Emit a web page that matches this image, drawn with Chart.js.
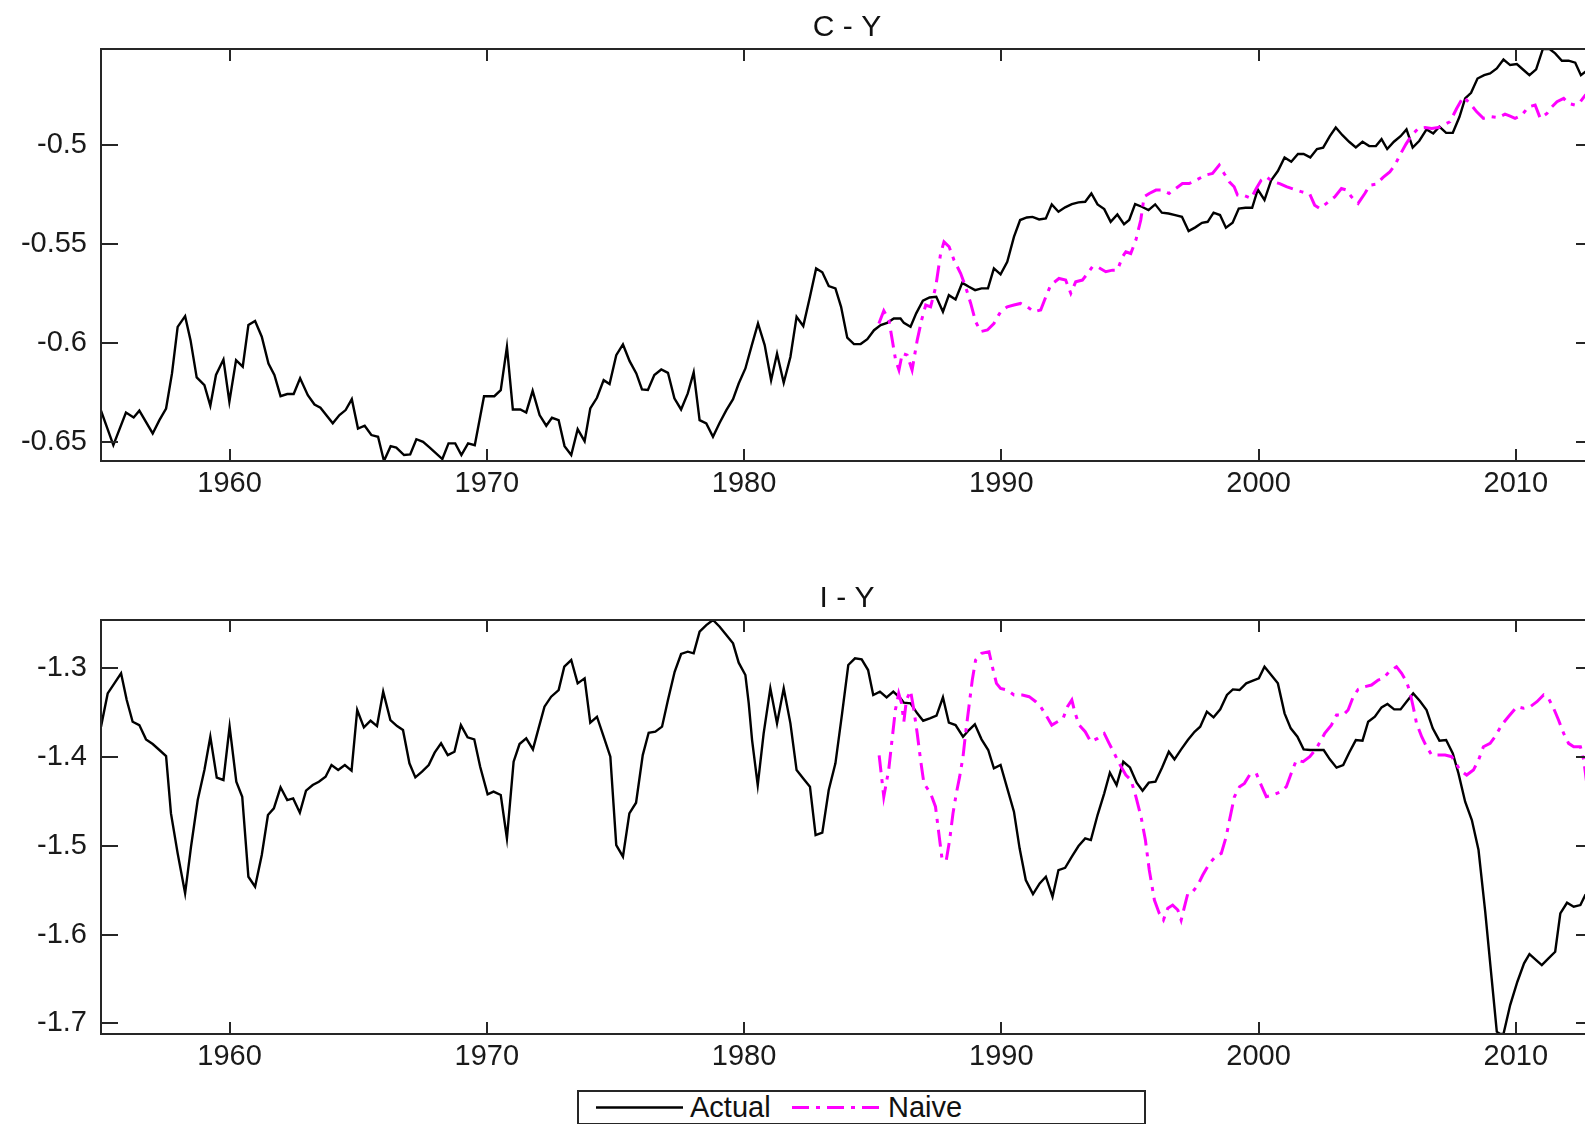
<!DOCTYPE html>
<html>
<head>
<meta charset="utf-8">
<title>C - Y / I - Y: Actual vs Naive</title>
<script src="https://cdn.jsdelivr.net/npm/chart.js@4.4.1/dist/chart.umd.min.js"></script>
<style>
    html, body {
        margin: 0;
        padding: 0;
        width: 1585px;
        height: 1124px;
        overflow: hidden;
        background: #fff;
        font-family: 'Liberation Sans', Arial, sans-serif;
    }
    .panel { position: absolute; left: 0; }
    #cyChart { top: 0; }
    #iyChart { top: 571px; }
    #legend {
        position: absolute;
        left: 577px;
        top: 1090px;
        width: 565px;
        height: 31px;
        border: 2px solid #262626;
        background: #fff;
        color: #111;
        font-size: 29px;
    }
    #legend span { position: absolute; top: 0; line-height: 31px; }
    #legend svg { position: absolute; top: 0; }
</style>
</head>
<body>
<canvas id="cyChart" class="panel" width="1600" height="500"></canvas>
<canvas id="iyChart" class="panel" width="1600" height="502"></canvas>
<div id="legend"></div>

<script>
// ---- axis ticks ----
const yearTicks = [1960, 1970, 1980, 1990, 2000, 2010];
const yearTickLabels = ['1960', '1970', '1980', '1990', '2000', '2010'];
const cyTicks = [-0.65, -0.6, -0.55, -0.5];
const cyTickLabels = ['-0.65', '-0.6', '-0.55', '-0.5'];
const iyTicks = [-1.7, -1.6, -1.5, -1.4, -1.3];
const iyTickLabels = ['-1.7', '-1.6', '-1.5', '-1.4', '-1.3'];
const seriesNames = ['Actual', 'Naive'];

// ---- C - Y, actual ----
const cyActualYears = [
    1955.00, 1955.48, 1955.97, 1956.27, 1956.49, 1957.01, 1957.27, 1957.53, 1957.76, 1957.98,
    1958.27, 1958.48, 1958.72, 1959.02, 1959.25, 1959.47, 1959.76, 1959.99, 1960.25, 1960.51,
    1960.73, 1960.99, 1961.25, 1961.51, 1961.74, 1961.98, 1962.24, 1962.49, 1962.74, 1963.04,
    1963.30, 1963.53, 1964.01, 1964.27, 1964.51, 1964.75, 1964.99, 1965.25, 1965.51, 1965.77,
    1966.00, 1966.26, 1966.48, 1966.78, 1967.02, 1967.26, 1967.52, 1967.78, 1968.27, 1968.51,
    1968.77, 1969.01, 1969.27, 1969.53, 1969.89, 1970.00, 1970.29, 1970.54, 1970.78, 1971.01,
    1971.30, 1971.53, 1971.78, 1972.05, 1972.31, 1972.53, 1972.79, 1973.02, 1973.28, 1973.53,
    1973.80, 1974.02, 1974.28, 1974.54, 1974.77, 1975.03, 1975.29, 1975.55, 1975.81, 1976.03,
    1976.26, 1976.51, 1976.78, 1977.04, 1977.29, 1977.55, 1977.81, 1978.04, 1978.27, 1978.53,
    1978.79, 1979.05, 1979.31, 1979.57, 1979.79, 1980.05, 1980.29, 1980.54, 1980.80, 1981.05,
    1981.28, 1981.54, 1981.80, 1982.04, 1982.30, 1982.56, 1982.80, 1983.04, 1983.29, 1983.55,
    1983.77, 1984.01, 1984.27, 1984.53, 1984.79, 1985.05, 1985.31, 1985.56, 1985.82, 1986.08,
    1986.21, 1986.47, 1986.69, 1986.95, 1987.21, 1987.47, 1987.73, 1987.96, 1988.22, 1988.48,
    1988.74, 1988.98, 1989.23, 1989.48, 1989.71, 1989.97, 1990.23, 1990.49, 1990.73, 1990.99,
    1991.21, 1991.47, 1991.73, 1991.96, 1992.22, 1992.48, 1992.74, 1993.00, 1993.26, 1993.50,
    1993.74, 1994.00, 1994.25, 1994.51, 1994.77, 1994.97, 1995.20, 1995.46, 1995.72, 1995.98,
    1996.24, 1996.50, 1996.76, 1997.02, 1997.28, 1997.54, 1997.80, 1998.02, 1998.25, 1998.50,
    1998.73, 1998.99, 1999.23, 1999.49, 1999.75, 1999.97, 2000.23, 2000.49, 2000.75, 2001.01,
    2001.27, 2001.53, 2001.75, 2002.01, 2002.27, 2002.51, 2002.77, 2003.00, 2003.26, 2003.52,
    2003.78, 2004.04, 2004.30, 2004.56, 2004.78, 2005.00, 2005.26, 2005.52, 2005.75, 2005.99,
    2006.25, 2006.53, 2006.79, 2007.03, 2007.29, 2007.55, 2007.81, 2008.03, 2008.26, 2008.51,
    2008.77, 2009.00, 2009.26, 2009.52, 2009.78, 2010.04, 2010.30, 2010.53, 2010.79, 2011.05,
    2011.31, 2011.53, 2011.79, 2012.05, 2012.31, 2012.53, 2012.70, 2013.00
];
const cyActualValues = [
    -0.6340, -0.6514, -0.6349, -0.6374, -0.6340, -0.6455, -0.6388, -0.6329, -0.6152, -0.5917,
    -0.5863, -0.5984, -0.6172, -0.6211, -0.6315, -0.6160, -0.6082, -0.6295, -0.6085, -0.6118,
    -0.5908, -0.5888, -0.5967, -0.6102, -0.6160, -0.6267, -0.6256, -0.6256, -0.6177, -0.6262,
    -0.6309, -0.6325, -0.6404, -0.6362, -0.6337, -0.6282, -0.6430, -0.6416, -0.6463, -0.6472,
    -0.6594, -0.6519, -0.6526, -0.6564, -0.6561, -0.6484, -0.6497, -0.6526, -0.6584, -0.6505,
    -0.6505, -0.6564, -0.6505, -0.6514, -0.6267, -0.6267, -0.6267, -0.6236, -0.6018, -0.6334,
    -0.6334, -0.6349, -0.6240, -0.6362, -0.6416, -0.6376, -0.6388, -0.6519, -0.6564, -0.6433,
    -0.6494, -0.6329, -0.6275, -0.6186, -0.6206, -0.6060, -0.6006, -0.6090, -0.6152, -0.6233,
    -0.6236, -0.6160, -0.6132, -0.6149, -0.6278, -0.6334, -0.6253, -0.6147, -0.6388, -0.6404,
    -0.6472, -0.6401, -0.6337, -0.6282, -0.6203, -0.6127, -0.6014, -0.5900, -0.6009, -0.6186,
    -0.6052, -0.6199, -0.6069, -0.5866, -0.5913, -0.5765, -0.5622, -0.5642, -0.5711, -0.5723,
    -0.5816, -0.5972, -0.6004, -0.6004, -0.5979, -0.5934, -0.5908, -0.5897, -0.5875, -0.5875,
    -0.5897, -0.5917, -0.5849, -0.5785, -0.5769, -0.5765, -0.5841, -0.5757, -0.5779, -0.5695,
    -0.5715, -0.5732, -0.5723, -0.5723, -0.5622, -0.5652, -0.5589, -0.5463, -0.5378, -0.5365,
    -0.5362, -0.5375, -0.5370, -0.5299, -0.5336, -0.5314, -0.5298, -0.5289, -0.5286, -0.5244,
    -0.5299, -0.5323, -0.5387, -0.5350, -0.5399, -0.5378, -0.5298, -0.5311, -0.5328, -0.5299,
    -0.5341, -0.5345, -0.5353, -0.5362, -0.5434, -0.5415, -0.5392, -0.5387, -0.5341, -0.5353,
    -0.5417, -0.5392, -0.5320, -0.5316, -0.5316, -0.5224, -0.5277, -0.5177, -0.5131, -0.5062,
    -0.5084, -0.5045, -0.5045, -0.5062, -0.5020, -0.5013, -0.4955, -0.4911, -0.4950, -0.4983,
    -0.5012, -0.4983, -0.5005, -0.5005, -0.4970, -0.5020, -0.4983, -0.4955, -0.4921, -0.5012,
    -0.4978, -0.4921, -0.4941, -0.4907, -0.4938, -0.4938, -0.4857, -0.4764, -0.4736, -0.4664,
    -0.4647, -0.4638, -0.4613, -0.4568, -0.4596, -0.4591, -0.4621, -0.4647, -0.4618, -0.4515,
    -0.4515, -0.4537, -0.4574, -0.4574, -0.4584, -0.4647, -0.4630, -0.4615
];

// ---- C - Y, naive ----
const cyNaiveYears = [
    1985.24, 1985.43, 1985.63, 1985.76, 1985.89, 1986.02, 1986.15, 1986.34, 1986.53, 1986.73,
    1986.90, 1987.06, 1987.25, 1987.45, 1987.64, 1987.77, 1987.97, 1988.16, 1988.42, 1988.61,
    1988.81, 1989.00, 1989.20, 1989.46, 1989.71, 1989.97, 1990.23, 1990.49, 1990.75, 1991.01,
    1991.27, 1991.53, 1991.73, 1991.92, 1992.24, 1992.50, 1992.70, 1992.89, 1993.15, 1993.35,
    1993.54, 1993.73, 1994.06, 1994.32, 1994.51, 1994.71, 1994.84, 1995.03, 1995.23, 1995.42,
    1995.55, 1995.75, 1996.01, 1996.26, 1996.52, 1996.78, 1997.04, 1997.30, 1997.56, 1997.95,
    1998.21, 1998.47, 1998.66, 1998.86, 1999.05, 1999.18, 1999.39, 1999.71, 1999.91, 2000.10,
    2000.30, 2000.56, 2000.82, 2001.08, 2001.40, 2001.66, 2001.99, 2002.18, 2002.38, 2002.64,
    2002.96, 2003.22, 2003.42, 2003.61, 2003.87, 2004.13, 2004.32, 2004.58, 2004.84, 2005.10,
    2005.30, 2005.49, 2005.73, 2005.95, 2006.21, 2006.47, 2006.73, 2006.99, 2007.18, 2007.44,
    2007.70, 2007.96, 2008.22, 2008.48, 2008.74, 2009.06, 2009.32, 2009.58, 2009.78, 2009.97,
    2010.23, 2010.49, 2010.75, 2010.95, 2011.21, 2011.40, 2011.60, 2011.86, 2012.05, 2012.31,
    2012.51, 2012.70, 2013.00
];
const cyNaiveValues = [
    -0.5900, -0.5836, -0.5883, -0.5984, -0.6085, -0.6135, -0.6051, -0.6060, -0.6135, -0.5984,
    -0.5883, -0.5807, -0.5816, -0.5715, -0.5547, -0.5488, -0.5513, -0.5580, -0.5648, -0.5715,
    -0.5799, -0.5891, -0.5941, -0.5933, -0.5900, -0.5841, -0.5816, -0.5807, -0.5799, -0.5816,
    -0.5841, -0.5832, -0.5765, -0.5706, -0.5673, -0.5681, -0.5748, -0.5690, -0.5681, -0.5648,
    -0.5614, -0.5614, -0.5639, -0.5631, -0.5631, -0.5564, -0.5538, -0.5547, -0.5479, -0.5378,
    -0.5261, -0.5244, -0.5227, -0.5227, -0.5244, -0.5219, -0.5194, -0.5194, -0.5177, -0.5151,
    -0.5143, -0.5101, -0.5143, -0.5185, -0.5210, -0.5252, -0.5252, -0.5269, -0.5219, -0.5177,
    -0.5160, -0.5185, -0.5194, -0.5210, -0.5224, -0.5235, -0.5247, -0.5303, -0.5320, -0.5294,
    -0.5261, -0.5219, -0.5227, -0.5261, -0.5294, -0.5244, -0.5202, -0.5197, -0.5163, -0.5135,
    -0.5101, -0.5051, -0.4995, -0.4950, -0.4916, -0.4911, -0.4916, -0.4911, -0.4899, -0.4882,
    -0.4815, -0.4756, -0.4790, -0.4832, -0.4865, -0.4857, -0.4861, -0.4844, -0.4854, -0.4865,
    -0.4849, -0.4807, -0.4798, -0.4865, -0.4840, -0.4807, -0.4781, -0.4764, -0.4790, -0.4798,
    -0.4781, -0.4748, -0.4750
];

// ---- I - Y, actual ----
const iyActualYears = [
    1955.00, 1955.26, 1955.52, 1955.78, 1956.00, 1956.23, 1956.49, 1956.75, 1957.01, 1957.27,
    1957.53, 1957.72, 1957.98, 1958.27, 1958.50, 1958.76, 1959.02, 1959.25, 1959.50, 1959.76,
    1960.00, 1960.26, 1960.49, 1960.73, 1960.99, 1961.25, 1961.49, 1961.72, 1961.98, 1962.24,
    1962.47, 1962.73, 1962.97, 1963.23, 1963.47, 1963.73, 1963.96, 1964.22, 1964.48, 1964.74,
    1964.96, 1965.22, 1965.48, 1965.73, 1965.97, 1966.25, 1966.51, 1966.74, 1966.99, 1967.22,
    1967.48, 1967.74, 1967.97, 1968.22, 1968.48, 1968.74, 1968.99, 1969.25, 1969.51, 1969.74,
    1970.03, 1970.26, 1970.54, 1970.78, 1971.04, 1971.27, 1971.53, 1971.79, 1972.01, 1972.24,
    1972.50, 1972.79, 1973.01, 1973.28, 1973.53, 1973.80, 1974.02, 1974.28, 1974.54, 1974.80,
    1975.03, 1975.29, 1975.54, 1975.80, 1976.06, 1976.29, 1976.55, 1976.81, 1977.04, 1977.30,
    1977.55, 1977.81, 1978.04, 1978.27, 1978.53, 1978.79, 1979.05, 1979.31, 1979.57, 1979.79,
    1980.05, 1980.18, 1980.31, 1980.53, 1980.76, 1981.02, 1981.28, 1981.54, 1981.80, 1982.04,
    1982.30, 1982.56, 1982.78, 1983.04, 1983.29, 1983.55, 1983.81, 1984.05, 1984.31, 1984.57,
    1984.82, 1985.02, 1985.28, 1985.54, 1985.80, 1986.08, 1986.21, 1986.47, 1986.73, 1986.96,
    1987.22, 1987.48, 1987.73, 1987.96, 1988.22, 1988.51, 1988.74, 1988.97, 1989.23, 1989.49,
    1989.71, 1989.97, 1990.23, 1990.49, 1990.71, 1990.95, 1991.23, 1991.49, 1991.73, 1991.99,
    1992.22, 1992.48, 1992.74, 1993.00, 1993.26, 1993.48, 1993.74, 1994.00, 1994.22, 1994.48,
    1994.74, 1995.00, 1995.26, 1995.49, 1995.73, 1995.99, 1996.25, 1996.51, 1996.73, 1996.99,
    1997.25, 1997.51, 1997.73, 1997.99, 1998.25, 1998.51, 1998.77, 1999.00, 1999.26, 1999.52,
    1999.78, 2000.01, 2000.23, 2000.49, 2000.75, 2001.01, 2001.25, 2001.51, 2001.75, 2002.01,
    2002.27, 2002.53, 2002.77, 2003.03, 2003.29, 2003.52, 2003.78, 2004.04, 2004.26, 2004.52,
    2004.78, 2005.01, 2005.27, 2005.52, 2005.75, 2006.01, 2006.27, 2006.53, 2006.77, 2007.03,
    2007.29, 2007.55, 2007.77, 2008.03, 2008.29, 2008.55, 2008.81, 2009.06, 2009.26, 2009.39,
    2009.52, 2009.78, 2010.06, 2010.32, 2010.53, 2010.79, 2011.01, 2011.27, 2011.53, 2011.73,
    2011.99, 2012.25, 2012.51, 2012.70, 2013.00
];
const iyActualValues = [
    -1.3657, -1.3282, -1.3169, -1.3056, -1.3357, -1.3601, -1.3639, -1.3800, -1.3853, -1.3920,
    -1.3988, -1.4634, -1.5085, -1.5535, -1.5009, -1.4484, -1.4146, -1.3770, -1.4232, -1.4258,
    -1.3657, -1.4277, -1.4446, -1.5348, -1.5460, -1.5103, -1.4653, -1.4578, -1.4340, -1.4484,
    -1.4465, -1.4626, -1.4378, -1.4315, -1.4277, -1.4221, -1.4089, -1.4146, -1.4089, -1.4153,
    -1.3469, -1.3665, -1.3590, -1.3650, -1.3263, -1.3582, -1.3650, -1.3695, -1.4070, -1.4228,
    -1.4164, -1.4089, -1.3950, -1.3845, -1.3977, -1.3939, -1.3639, -1.3777, -1.3800, -1.4108,
    -1.4420, -1.4389, -1.4427, -1.4916, -1.4052, -1.3853, -1.3789, -1.3913, -1.3676, -1.3432,
    -1.3319, -1.3244, -1.2981, -1.2906, -1.3169, -1.3113, -1.3612, -1.3545, -1.3770, -1.3995,
    -1.4991, -1.5122, -1.4634, -1.4514, -1.3977, -1.3725, -1.3714, -1.3657, -1.3357, -1.3038,
    -1.2838, -1.2812, -1.2831, -1.2587, -1.2512, -1.2455, -1.2531, -1.2624, -1.2718, -1.2936,
    -1.3075, -1.3394, -1.3808, -1.4315, -1.3732, -1.3225, -1.3620, -1.3225, -1.3620, -1.4146,
    -1.4240, -1.4333, -1.4878, -1.4852, -1.4371, -1.4070, -1.3507, -1.2962, -1.2887, -1.2898,
    -1.3019, -1.3300, -1.3263, -1.3327, -1.3263, -1.3338, -1.3387, -1.3394, -1.3507, -1.3590,
    -1.3563, -1.3533, -1.3327, -1.3612, -1.3639, -1.3770, -1.3695, -1.3631, -1.3800, -1.3920,
    -1.4127, -1.4089, -1.4352, -1.4615, -1.5028, -1.5385, -1.5543, -1.5423, -1.5348, -1.5573,
    -1.5273, -1.5247, -1.5122, -1.5002, -1.4916, -1.4935, -1.4653, -1.4408, -1.4176, -1.4315,
    -1.4052, -1.4116, -1.4288, -1.4378, -1.4288, -1.4277, -1.4116, -1.3939, -1.4025, -1.3913,
    -1.3808, -1.3714, -1.3657, -1.3488, -1.3552, -1.3462, -1.3300, -1.3237, -1.3244, -1.3169,
    -1.3139, -1.3113, -1.2981, -1.3075, -1.3169, -1.3507, -1.3676, -1.3770, -1.3913, -1.3920,
    -1.3920, -1.3920, -1.4025, -1.4119, -1.4089, -1.3950, -1.3808, -1.3815, -1.3601, -1.3545,
    -1.3439, -1.3402, -1.3462, -1.3462, -1.3376, -1.3282, -1.3368, -1.3470, -1.3676, -1.3815,
    -1.3808, -1.3958, -1.4183, -1.4502, -1.4709, -1.5047, -1.5742, -1.6493, -1.7094, -1.7120,
    -1.7120, -1.6794, -1.6531, -1.6324, -1.6219, -1.6287, -1.6343, -1.6268, -1.6193, -1.5761,
    -1.5641, -1.5686, -1.5667, -1.5554, -1.5530
];

// ---- I - Y, naive ----
const iyNaiveYears = [
    1985.25, 1985.43, 1985.62, 1985.75, 1985.88, 1986.01, 1986.12, 1986.21, 1986.31, 1986.47,
    1986.60, 1986.73, 1986.86, 1986.99, 1987.25, 1987.44, 1987.57, 1987.70, 1987.86, 1987.99,
    1988.12, 1988.25, 1988.38, 1988.51, 1988.61, 1988.74, 1988.87, 1989.00, 1989.23, 1989.52,
    1989.65, 1989.81, 1989.97, 1990.23, 1990.49, 1990.82, 1991.08, 1991.34, 1991.53, 1991.73,
    1991.96, 1992.18, 1992.40, 1992.57, 1992.74, 1992.87, 1993.03, 1993.26, 1993.48, 1993.74,
    1994.00, 1994.19, 1994.39, 1994.58, 1994.84, 1995.04, 1995.23, 1995.43, 1995.60, 1995.75,
    1995.95, 1996.14, 1996.30, 1996.47, 1996.66, 1996.86, 1996.99, 1997.12, 1997.25, 1997.44,
    1997.64, 1997.83, 1998.09, 1998.32, 1998.55, 1998.74, 1998.87, 1999.06, 1999.26, 1999.45,
    1999.65, 1999.91, 2000.10, 2000.30, 2000.56, 2000.88, 2001.08, 2001.27, 2001.47, 2001.73,
    2001.99, 2002.25, 2002.57, 2002.83, 2003.03, 2003.29, 2003.48, 2003.68, 2003.87, 2004.13,
    2004.39, 2004.65, 2004.84, 2005.08, 2005.36, 2005.56, 2005.75, 2005.88, 2006.01, 2006.14,
    2006.34, 2006.53, 2006.73, 2006.99, 2007.25, 2007.51, 2007.83, 2008.09, 2008.35, 2008.55,
    2008.74, 2009.00, 2009.19, 2009.45, 2009.71, 2010.04, 2010.30, 2010.56, 2010.82, 2011.08,
    2011.27, 2011.47, 2011.66, 2011.86, 2012.05, 2012.25, 2012.51, 2012.64, 2012.75
];
const iyNaiveValues = [
    -1.3980, -1.4446, -1.4146, -1.3808, -1.3470, -1.3282, -1.3394, -1.3601, -1.3357, -1.3252,
    -1.3470, -1.3733, -1.4033, -1.4296, -1.4408, -1.4559, -1.4859, -1.5160, -1.5160, -1.4934,
    -1.4634, -1.4408, -1.4220, -1.3995, -1.3733, -1.3432, -1.3131, -1.2906, -1.2831, -1.2812,
    -1.2981, -1.3169, -1.3225, -1.3244, -1.3300, -1.3300, -1.3319, -1.3376, -1.3432, -1.3526,
    -1.3639, -1.3601, -1.3563, -1.3432, -1.3357, -1.3507, -1.3639, -1.3714, -1.3826, -1.3789,
    -1.3733, -1.3845, -1.3958, -1.4070, -1.4202, -1.4258, -1.4446, -1.4671, -1.4934, -1.5272,
    -1.5610, -1.5761, -1.5836, -1.5704, -1.5667, -1.5723, -1.5836, -1.5686, -1.5535, -1.5517,
    -1.5441, -1.5329, -1.5197, -1.5122, -1.5085, -1.4897, -1.4709, -1.4446, -1.4333, -1.4296,
    -1.4202, -1.4183, -1.4315, -1.4446, -1.4427, -1.4389, -1.4333, -1.4183, -1.4033, -1.4052,
    -1.3995, -1.3901, -1.3733, -1.3639, -1.3526, -1.3526, -1.3469, -1.3319, -1.3237, -1.3207,
    -1.3188, -1.3131, -1.3113, -1.3038, -1.2981, -1.3056, -1.3150, -1.3263, -1.3432, -1.3619,
    -1.3770, -1.3883, -1.3977, -1.3977, -1.3977, -1.3995, -1.4146, -1.4202, -1.4146, -1.4033,
    -1.3883, -1.3845, -1.3770, -1.3639, -1.3545, -1.3432, -1.3450, -1.3432, -1.3376, -1.3300,
    -1.3338, -1.3450, -1.3582, -1.3733, -1.3845, -1.3883, -1.3883, -1.4033, -1.4280
];

Chart.defaults.font.family = "'Liberation Sans', Arial, sans-serif";
Chart.defaults.color = '#1a1a1a';

function toPoints(years, values) {
    return years.map((yr, i) => ({ x: yr, y: values[i] }));
}

// box around the axes with inward ticks on all four sides
const boxTicks = {
    id: 'boxTicks',
    afterDraw(chart) {
        const { ctx, chartArea: a, scales: { x, y } } = chart;
        ctx.save();
        ctx.strokeStyle = '#262626';
        ctx.lineWidth = 2;
        ctx.strokeRect(a.left, a.top, a.right - a.left, a.bottom - a.top);
        ctx.beginPath();
        x.ticks.forEach(t => {
            const px = Math.round(x.getPixelForValue(t.value));
            ctx.moveTo(px, a.bottom);
            ctx.lineTo(px, a.bottom - 12);
            ctx.moveTo(px, a.top);
            ctx.lineTo(px, a.top + 12);
        });
        y.ticks.forEach(t => {
            const py = Math.round(y.getPixelForValue(t.value));
            ctx.moveTo(a.left, py);
            ctx.lineTo(a.left + 17, py);
            ctx.moveTo(a.right, py);
            ctx.lineTo(a.right - 17, py);
        });
        ctx.stroke();
        ctx.restore();
    }
};

function makePanel(canvasId, title, actualPts, naivePts, yMin, yMax, yTicks, yLabels) {
    const ctx = document.getElementById(canvasId).getContext('2d');
    return new Chart(ctx, {
        type: 'line',
        data: {
            datasets: [{
                label: seriesNames[0],
                data: actualPts,
                borderColor: '#000000',
                borderWidth: 2.4,
                pointRadius: 0,
                tension: 0,
                fill: false,
                order: 2
            }, {
                label: seriesNames[1],
                data: naivePts,
                borderColor: '#ff00ff',
                borderWidth: 3,
                borderDash: [17, 7, 4, 7],
                pointRadius: 0,
                tension: 0,
                fill: false,
                order: 1
            }]
        },
        options: {
            responsive: false,
            animation: false,
            events: [],
            layout: {
                padding: { left: 0, right: 7, top: 0, bottom: 0 }
            },
            plugins: {
                legend: { display: false },
                tooltip: { enabled: false },
                title: {
                    display: true,
                    text: title,
                    fullSize: false,
                    color: '#111',
                    font: { size: 30, weight: 'normal' },
                    padding: { top: 10, bottom: 3 }
                }
            },
            scales: {
                x: {
                    type: 'linear',
                    min: 1955,
                    max: 2013,
                    afterBuildTicks: scale => {
                        scale.ticks = yearTicks.map(v => ({ value: v }));
                    },
                    afterFit: scale => {
                        scale.height = 39;
                    },
                    ticks: {
                        autoSkip: false,
                        maxRotation: 0,
                        padding: 6,
                        color: '#1a1a1a',
                        font: { size: 29 },
                        callback: (value, index) => yearTickLabels[index]
                    },
                    grid: { display: false, drawTicks: false },
                    border: { display: false }
                },
                y: {
                    min: yMin,
                    max: yMax,
                    afterBuildTicks: scale => {
                        scale.ticks = yTicks.map(v => ({ value: v }));
                    },
                    afterFit: scale => {
                        scale.width = 101;
                    },
                    ticks: {
                        autoSkip: false,
                        padding: 14,
                        color: '#1a1a1a',
                        font: { size: 29 },
                        callback: (value, index) => yLabels[index]
                    },
                    grid: { display: false, drawTicks: false },
                    border: { display: false }
                }
            }
        },
        plugins: [boxTicks]
    });
}

const cyChart = makePanel('cyChart', 'C - Y',
    toPoints(cyActualYears, cyActualValues), toPoints(cyNaiveYears, cyNaiveValues),
    -0.6594, -0.4515, cyTicks, cyTickLabels);

const iyChart = makePanel('iyChart', 'I - Y',
    toPoints(iyActualYears, iyActualValues), toPoints(iyNaiveYears, iyNaiveValues),
    -1.712, -1.2455, iyTicks, iyTickLabels);

// HTML legend built from the chart's own legend items, in dataset order
const legendSampleLeft = [17, 213];
const legendTextLeft = [111, 309];
(function buildLegend(chart) {
    const box = document.getElementById('legend');
    const svgNS = 'http://www.w3.org/2000/svg';
    const items = chart.options.plugins.legend.labels.generateLabels(chart)
        .sort((a, b) => a.datasetIndex - b.datasetIndex);
    items.forEach((item, i) => {
        const svg = document.createElementNS(svgNS, 'svg');
        svg.setAttribute('width', '87');
        svg.setAttribute('height', '31');
        svg.style.left = legendSampleLeft[i] + 'px';
        const line = document.createElementNS(svgNS, 'line');
        line.setAttribute('x1', '0');
        line.setAttribute('x2', '87');
        line.setAttribute('y1', '15.5');
        line.setAttribute('y2', '15.5');
        line.setAttribute('stroke', item.strokeStyle);
        line.setAttribute('stroke-width', item.lineWidth);
        if (item.lineDash && item.lineDash.length) {
            line.setAttribute('stroke-dasharray', item.lineDash.join(' '));
        }
        svg.appendChild(line);
        box.appendChild(svg);

        const label = document.createElement('span');
        label.textContent = item.text;
        label.style.left = legendTextLeft[i] + 'px';
        box.appendChild(label);
    });
})(iyChart);
</script>
</body>
</html>
